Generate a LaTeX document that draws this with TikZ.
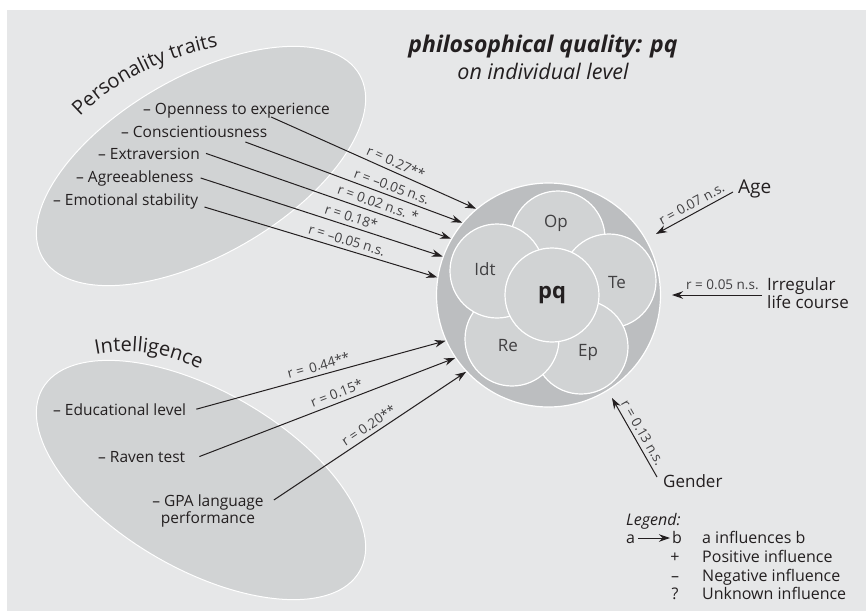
\documentclass[tikz,border=0pt]{standalone}
\usepackage{fontspec}
\setmainfont{Open Sans}
\usetikzlibrary{arrows.meta,decorations.text}

\definecolor{bggray}{HTML}{E6E7E8}
\definecolor{blobgray}{HTML}{D1D3D4}
\definecolor{ringgray}{HTML}{BCBEC0}
\definecolor{ink}{HTML}{231F20}
\definecolor{rink}{HTML}{414042}

\begin{document}
\begin{tikzpicture}[x=1pt, y=-1pt,
    every node/.style={text=ink},
    item/.style={font=\fontsize{15.5}{17}\selectfont, anchor=base west, inner sep=0pt},
    side/.style={font=\fontsize{17}{18}\selectfont, inner sep=0pt},
    leg/.style={font=\fontsize{16}{17}\selectfont, inner sep=0pt},
    infl/.style={-{Stealth[length=11pt,width=7.5pt]}, line width=1pt, draw=ink},
    rlab/.style={font=\fontsize{13.5}{14}\selectfont, text=rink, sloped, above=3pt, inner sep=1pt},
    petal/.style={circle, fill=blobgray, draw=white, line width=1.2pt, minimum size=94pt, inner sep=0pt},
    petallab/.style={font=\fontsize{17}{17}\selectfont, text=rink, inner sep=0pt}
]

    % Background
    \fill[bggray] (7,10) rectangle (866,611);
    \useasboundingbox (0,0) rectangle (868,611);

    % Trait groups
    \filldraw[blobgray, draw=white, line width=1pt, rotate around={30:(201,166)}]
        (201,166) ellipse (183 and 89);
    \filldraw[blobgray, draw=white, line width=1pt, rotate around={-30:(201,480)}]
        (201,480) ellipse (183 and 89);

    \path[decorate, decoration={text along path, text align=center,
        text={|\fontsize{20}{20}\selectfont\color{ink}|Personality traits}}]
        (68,130) .. controls (100,90) and (160,54) .. (236,44);
    \path[decorate, decoration={text along path, text align=center,
        text={|\fontsize{20}{20}\selectfont\color{ink}|Intelligence}}]
        (78,359) .. controls (118,345) and (170,350) .. (216,378);

    % Title
    \node[font=\fontsize{23}{24}\selectfont\bfseries\itshape] (title) at (543,47)
        {philosophical quality: pq};
    \node[font=\fontsize{21.5}{22}\selectfont\itshape] (subtitle) at (543,71)
        {on individual level};

    % pq and its components
    \node[circle, fill=ringgray, draw=white, line width=1.2pt, minimum size=224pt]
        (pqc) at (548.5,295) {};
    \node[petal] (op) at (558,238) {};
    \node[petal] (te) at (609,281) {};
    \node[petal] (ep) at (581,347) {};
    \node[petal] (re) at (512,339) {};
    \node[petal] (idt) at (497,271) {};
    \node[petal, font=\fontsize{22}{22}\selectfont\bfseries] (pq) at (552,295) {pq};

    \node[petallab] (oplab) at (556,223) {Op};
    \node[petallab] (telab) at (617,283) {Te};
    \node[petallab] (eplab) at (588,352) {Ep};
    \node[petallab] (relab) at (508,346) {Re};
    \node[petallab] (idtlab) at (485,269) {Idt};

    % Personality traits
    \node[item] (open) at (143,114) {– Openness to experience};
    \node[item] (consc) at (121,137) {– Conscientiousness};
    \node[item] (extra) at (98,159) {– Extraversion};
    \node[item] (agree) at (76,182) {– Agreeableness};
    \node[item] (emot) at (53,205) {– Emotional stability};

    \draw[infl] ([xshift=-59pt, yshift=-3pt]open.base east) -- (pqc.130)
        node[rlab, pos=0.59] {r = 0.27**};
    \draw[infl] ([xshift=-22pt, yshift=-5pt]consc.base east) -- (pqc.140.5)
        node[rlab, pos=0.66] {r = –0.05 n.s.};
    \draw[infl] ([xshift=6pt]extra.east) -- (pqc.150.6)
        node[rlab, pos=0.69] {r = 0.02 n.s. *};
    \draw[infl] ([xshift=7pt]agree.east) -- (pqc.160.8)
        node[rlab, pos=0.61] {r = 0.18*};
    \draw[infl] ([xshift=6pt, yshift=-2pt]emot.base east) -- (pqc.171.3)
        node[rlab, pos=0.6] {r = –0.05 n.s.};

    % Intelligence
    \node[item] (edu) at (53,415) {– Educational level};
    \node[item] (raven) at (98,462) {– Raven test};
    \node[item, anchor=north, align=center] (gpa) at (208,495)
        {– GPA language\\performance};

    \draw[infl] ([xshift=10pt]edu.east) -- (pqc.204.4)
        node[rlab, pos=0.5] {r =\, 0.44**};
    \draw[infl] ([xshift=14pt]raven.east) -- (pqc.214.1)
        node[rlab, pos=0.55] {r = 0.15*};
    \draw[infl] ([xshift=10pt, yshift=-5pt]gpa.north east) -- (pqc.223.8)
        node[rlab, pos=0.52] {r = 0.20**};

    % Other influences
    \node[side, anchor=base west, font=\fontsize{19}{19}\selectfont] (age) at (738,193) {Age};
    \node[side, anchor=north west, align=left] (irr) at (767,277) {Irregular\\life course};
    \node[side, anchor=base west] (gender) at (663,487) {Gender};

    \coordinate (agetip) at (656,234);
    \coordinate (irrtip) at (672,295);
    \coordinate (gendertip) at (612,398);

    \draw[infl] ([xshift=-5pt, yshift=1pt]age.base west) -- (agetip)
        node[rlab, pos=0.48] {r = 0.07 n.s.};
    \draw[infl] ([xshift=-5pt, yshift=-18pt]irr.north west) -- (irrtip)
        node[rlab, pos=0.44, above=1pt] {r = 0.05 n.s.};
    \draw[infl] ([xshift=-6pt, yshift=10pt]gender.base west) -- (gendertip)
        node[rlab, pos=0.5] {r = 0.13 n.s.};

    % Legend
    \node[leg, anchor=base west, font=\fontsize{16}{17}\selectfont\itshape] (legend) at (626,525) {Legend:};
    \node[leg, anchor=base west] (la) at (626,543) {a};
    \node[leg, anchor=base west] (lb) at (672,543) {b};
    \draw[infl] ([xshift=3pt, yshift=5pt]la.base east) -- ([xshift=-2pt, yshift=5pt]lb.base west);

    \node[leg, anchor=base] (plus) at (675,562) {+};
    \node[leg, anchor=base] (minus) at (675,581) {–};
    \node[leg, anchor=base] (quest) at (675,599) {?};

    \node[leg, anchor=base west] (ltxt) at (702,543) {a influences b};
    \node[leg, anchor=base west] (ptxt) at (702,562) {Positive influence};
    \node[leg, anchor=base west] (ntxt) at (702,581) {Negative influence};
    \node[leg, anchor=base west] (utxt) at (702,599) {Unknown influence};

\end{tikzpicture}
\end{document}
